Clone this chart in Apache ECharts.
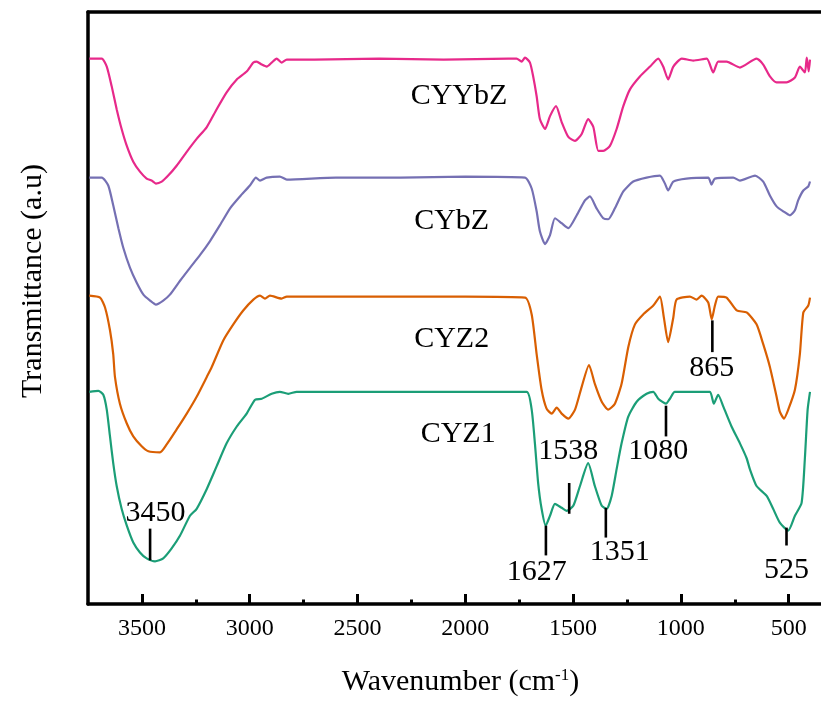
<!DOCTYPE html>
<html>
<head>
<meta charset="utf-8">
<title>FTIR</title>
<script src="https://cdn.jsdelivr.net/npm/echarts@6.0.0/dist/echarts.min.js"></script>
<style>
  html, body { margin: 0; padding: 0; background: #fff; }
  #main { width: 821px; height: 702px; }
</style>
</head>
<body>
<div id="main"></div>
<script>
// spectra: wavenumber (cm-1) and transmittance (a.u., offset per curve)
var cyybzWave = [3744,3686,3663,3640,3617,3594,3570,3540,3509,3478,3455,3435,3408,3378,3339,3292,3246,3199,3153,3107,3060,3014,2983,2968,2944,2921,2898,2875,2852,2828,2700,2400,2100,1800,1762,1739,1723,1700,1685,1669,1654,1630,1607,1579,1553,1522,1491,1460,1430,1406,1383,1360,1329,1298,1267,1236,1190,1143,1105,1082,1059,1035,996,943,880,850,827,788,726,649,618,587,556,510,471,448,425,416,407,401];
var cyybzT = [550,550,542,522,499,479,462,446,436,429,427,424,426,432,442,456,469,481,499,516,529,537,546,547,544,542,546,550,546,549,549,550,549,550,550,547,551,546,532,512,489,479,492,502,486,471,467,474,489,481,457,457,462,479,502,519,532,542,550,542,529,542,550,548,550,536,547,547,541,550,544,532,526,526,531,542,536,551,537,549];

var cybzWave = [3744,3686,3656,3633,3609,3586,3555,3524,3493,3462,3435,3401,3370,3323,3277,3230,3184,3138,3091,3045,2999,2971,2952,2921,2860,2828,2600,2300,2000,1723,1692,1669,1654,1630,1607,1584,1553,1522,1483,1445,1422,1391,1360,1337,1306,1267,1221,1159,1097,1074,1059,1035,974,873,858,842,757,726,656,618,587,556,525,494,471,456,432,409,401];
var cybzT = [430,430,422,402,379,359,339,324,312,306,302,306,312,326,339,352,366,382,399,411,422,430,427,430,431,428,430,430,431,430,419,396,376,363,372,389,384,379,392,407,411,399,389,388,399,416,426,430,432,424,417,426,429,430,423,429,430,427,432,426,412,401,396,392,397,407,417,421,426];

var cyz2Wave = [3744,3694,3671,3648,3633,3625,3602,3570,3540,3501,3470,3416,3385,3339,3292,3246,3199,3176,3122,3076,3030,2983,2952,2929,2906,2852,2828,2600,2300,2000,1723,1692,1669,1646,1623,1599,1576,1553,1522,1491,1460,1426,1399,1367,1337,1306,1275,1244,1213,1175,1128,1097,1079,1059,1035,1020,958,927,904,873,857,842,827,788,741,695,649,618,587,556,541,522,502,471,448,432,409,401];
var cyz2T = [311,309,299,276,252,229,202,182,169,159,154,153,161,176,192,209,229,239,266,282,296,307,311,308,311,308,310,310,310,310,309,292,252,216,197,192,198,192,187,196,219,241,222,204,196,202,222,259,282,292,301,310,289,264,289,307,310,307,311,304,287,301,310,309,296,294,282,262,239,209,194,187,196,216,252,294,301,309];

var cyz1Wave = [3744,3702,3679,3663,3648,3633,3617,3594,3570,3540,3509,3478,3439,3401,3362,3323,3277,3246,3199,3153,3107,3060,3014,2975,2944,2898,2860,2821,2782,2500,2200,1900,1715,1692,1677,1662,1646,1627,1607,1584,1553,1530,1499,1468,1430,1399,1367,1344,1321,1298,1275,1244,1205,1159,1128,1105,1069,1051,1028,912,865,847,827,803,765,726,695,680,649,602,572,541,502,471,440,425,412,401];
var cyz1T = [214,215,211,196,169,142,119,96,79,62,52,46,43,46,56,69,89,96,116,139,162,179,192,206,207,212,214,212,214,214,214,214,214,196,162,122,96,79,89,101,97,94,99,119,142,119,99,96,109,136,162,189,204,212,214,207,202,207,214,214,214,202,211,199,179,162,147,136,119,109,96,82,74,89,102,146,196,214];

// peak marks: text, where the bar sits, bar ends, where the text sits
var peakText = ['3450', '1627', '1538', '1351', '1080', '865', '525'];
var peakWave = [3462, 1626, 1518, 1348, 1069, 854, 510];
var peakTop = [76, 79, 122, 97, 200, 286, 77];
var peakBottom = [44, 49, 91, 67, 169, 254, 59];
var peakLabelWave = [3437, 1669, 1522, 1283, 1105, 857, 510];
var peakLabelT = [92, 32, 154, 52, 154, 238, 34];

// sample names beside each curve
var sampleNames = ['CYYbZ', 'CYbZ', 'CYZ2', 'CYZ1'];
var sampleWave = [2029, 2063, 2063, 2033];
var sampleT = [512, 386, 267, 171];

var majorTicks = [3500, 3000, 2500, 2000, 1500, 1000, 500];
var minorTicks = [3250, 2750, 2250, 1750, 1250, 750];

var serif = '"Liberation Serif", "Times New Roman", serif';
var colors = ['#e7298a', '#7570b3', '#d95f02', '#1b9e77'];

function pairs(xs, ys) {
    var out = [];
    for (var i = 0; i < xs.length; i++) {
        out.push([xs[i], ys[i]]);
    }
    return out;
}

function lineSeries(name, data, color) {
    return {
        name: name,
        type: 'line',
        xAxisIndex: 0,
        yAxisIndex: 0,
        symbol: 'none',
        smooth: 0.2,
        lineStyle: { color: color, width: 2.2 },
        data: data
    };
}

var chart = echarts.init(document.getElementById('main'));

var option = {
    animation: false,
    backgroundColor: '#ffffff',
    grid: { left: 88, right: 0, top: 12, bottom: 93 },
    xAxis: [{
        type: 'value',
        min: 350,
        max: 3750,
        inverse: true,
        position: 'bottom',
        name: 'Wavenumber (cm{sup|-1})',
        nameLocation: 'middle',
        nameGap: 63,
        nameTextStyle: {
            color: '#000',
            fontSize: 30,
            fontFamily: serif,
            padding: [0, 0, 0, 12],
            rich: {
                sup: { color: '#000', fontSize: 17, fontFamily: serif, verticalAlign: 'top' }
            }
        },
        axisLine: { show: true, onZero: false, lineStyle: { color: '#000', width: 3.5 } },
        axisTick: { show: true, inside: true, length: 10, customValues: majorTicks, lineStyle: { color: '#000', width: 3 } },
        axisLabel: {
            color: '#000',
            fontSize: 24,
            fontFamily: serif,
            margin: 13,
            customValues: majorTicks,
            formatter: function (v) { return String(v); }
        },
        splitLine: { show: false }
    }, {
        // minor ticks only
        type: 'value',
        min: 350,
        max: 3750,
        inverse: true,
        position: 'bottom',
        axisLine: { show: false },
        axisTick: { show: true, inside: true, length: 4.5, customValues: minorTicks, lineStyle: { color: '#000', width: 3 } },
        axisLabel: { show: false },
        splitLine: { show: false }
    }, {
        // top frame line
        type: 'value',
        min: 350,
        max: 3750,
        inverse: true,
        position: 'top',
        axisLine: { show: true, onZero: false, lineStyle: { color: '#000', width: 3.5 } },
        axisTick: { show: false },
        axisLabel: { show: false },
        splitLine: { show: false }
    }],
    yAxis: {
        type: 'value',
        min: 0,
        max: 597,
        name: 'Transmittance (a.u)',
        nameLocation: 'middle',
        nameRotate: 90,
        nameGap: 40,
        nameTextStyle: { color: '#000', fontSize: 30, fontFamily: serif, padding: [0, 0, 0, 54] },
        axisLine: { show: true, onZero: false, lineStyle: { color: '#000', width: 3.5 } },
        axisTick: { show: false },
        axisLabel: { show: false },
        splitLine: { show: false }
    },
    series: [
        lineSeries('CYYbZ', pairs(cyybzWave, cyybzT), colors[0]),
        lineSeries('CYbZ', pairs(cybzWave, cybzT), colors[1]),
        lineSeries('CYZ2', pairs(cyz2Wave, cyz2T), colors[2]),
        lineSeries('CYZ1', pairs(cyz1Wave, cyz1T), colors[3]),
        {
            type: 'custom',
            xAxisIndex: 0,
            yAxisIndex: 0,
            z: 10,
            silent: true,
            data: peakWave.map(function (w, i) {
                return [w, peakTop[i], peakBottom[i], peakLabelWave[i], peakLabelT[i]];
            }),
            renderItem: function (params, api) {
                var a = api.coord([api.value(0), api.value(1)]);
                var b = api.coord([api.value(0), api.value(2)]);
                var t = api.coord([api.value(3), api.value(4)]);
                return {
                    type: 'group',
                    children: [{
                        type: 'line',
                        shape: { x1: a[0], y1: a[1], x2: b[0], y2: b[1] },
                        style: { stroke: '#000', lineWidth: 2.6 }
                    }, {
                        type: 'text',
                        x: t[0],
                        y: t[1],
                        style: {
                            text: peakText[params.dataIndex],
                            align: 'center',
                            verticalAlign: 'middle',
                            fontSize: 30,
                            fontFamily: serif,
                            fill: '#000'
                        }
                    }]
                };
            }
        },
        {
            type: 'custom',
            xAxisIndex: 0,
            yAxisIndex: 0,
            z: 10,
            silent: true,
            data: sampleWave.map(function (w, i) {
                return [w, sampleT[i]];
            }),
            renderItem: function (params, api) {
                var p = api.coord([api.value(0), api.value(1)]);
                return {
                    type: 'text',
                    x: p[0],
                    y: p[1],
                    style: {
                        text: sampleNames[params.dataIndex],
                        align: 'center',
                        verticalAlign: 'middle',
                        fontSize: 30,
                        fontFamily: serif,
                        fill: '#000'
                    }
                };
            }
        }
    ]
};

chart.setOption(option);
</script>
</body>
</html>
